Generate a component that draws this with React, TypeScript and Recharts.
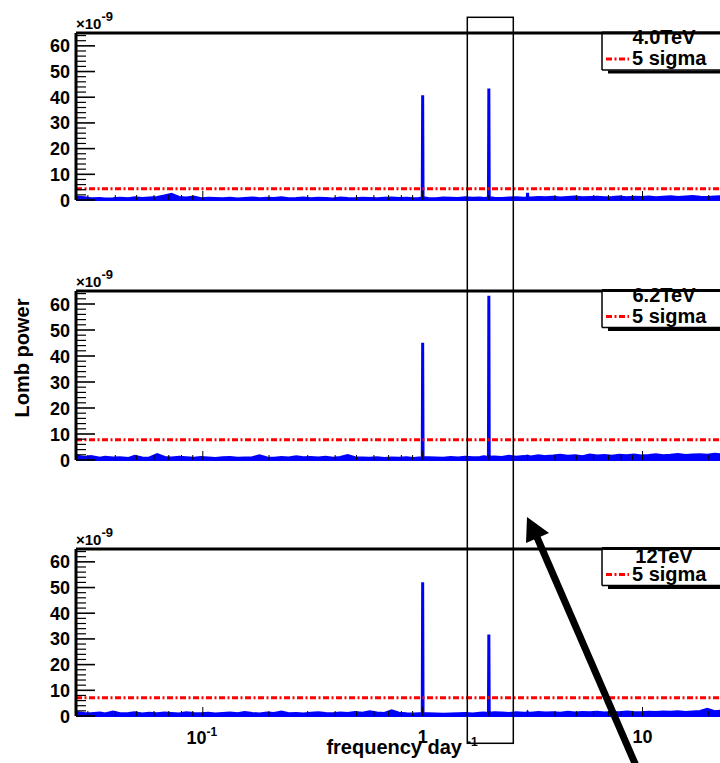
import React from "react";
import { ComposedChart, Area, XAxis, YAxis, ReferenceLine } from "recharts";

const FONT = '"Liberation Sans", Arial, Helvetica, sans-serif';

// frequency grid (day^-1), log spaced by hand
const FREQ = [
  0.0265, 0.029, 0.031, 0.034, 0.036, 0.039, 0.042, 0.046, 0.049, 0.053,
  0.057, 0.062, 0.067, 0.072, 0.078, 0.084, 0.091, 0.098, 0.106, 0.114,
  0.123, 0.133, 0.144, 0.155, 0.168, 0.181, 0.196, 0.211, 0.228, 0.246,
  0.266, 0.287, 0.31, 0.335, 0.362, 0.391, 0.422, 0.456, 0.492, 0.532,
  0.574, 0.62, 0.67, 0.723, 0.781, 0.844, 0.911, 0.96, 0.996, 1.0,
  1.004, 1.06, 1.15, 1.24, 1.34, 1.45, 1.56, 1.69, 1.82, 1.9,
  1.992, 2.0, 2.008, 2.12, 2.29, 2.47, 2.67, 2.88, 2.99, 3.0,
  3.01, 3.11, 3.36, 3.63, 3.92, 4.23, 4.57, 4.94, 5.33, 5.76,
  6.22, 6.72, 7.26, 7.84, 8.46, 9.14, 9.87, 10.7, 11.5, 12.4,
  13.4, 14.5, 15.7, 16.9, 18.3, 19.7, 21.3, 23.0, 25.0,
];

// Lomb power, units of 1e-9
const POWER_4TEV = [
  1.2, 0.9, 0.5, 0.6, 0.4, 0.5, 0.7, 0.5, 0.9, 0.6,
  0.8, 1.0, 1.6, 2.2, 1.0, 0.8, 1.2, 0.5, 0.7, 0.6,
  0.5, 0.7, 0.4, 0.6, 0.8, 0.5, 0.7, 0.6, 0.9, 0.5,
  0.6, 0.8, 0.5, 0.7, 0.6, 0.4, 0.8, 0.6, 0.5, 0.7,
  0.6, 0.5, 0.7, 0.8, 0.6, 0.7, 0.5, 0.6, 0.8, 40.8,
  0.9, 0.6, 0.5, 0.8, 0.7, 0.6, 0.9, 0.7, 0.8, 0.6,
  0.8, 43.4, 0.9, 0.7, 0.6, 0.8, 0.9, 0.7, 0.8, 2.8,
  0.9, 0.8, 1.0, 0.9, 1.1, 0.8, 1.0, 1.2, 0.9, 1.0,
  1.1, 0.9, 1.0, 1.2, 0.9, 1.1, 1.0, 1.2, 0.9, 1.1,
  1.3, 1.0, 1.2, 1.4, 1.1, 1.0, 1.2, 1.3, 1.1,
];

const POWER_6TEV = [
  1.5, 1.0, 1.3, 0.7, 1.1, 0.8, 0.9, 0.6, 1.4, 0.8,
  0.7, 2.1, 1.0, 0.8, 1.1, 0.9, 0.7, 1.0, 0.8, 0.6,
  0.9, 1.0, 0.7, 0.8, 0.9, 1.6, 0.8, 0.7, 1.0, 0.8,
  1.2, 0.9, 1.0, 0.8, 1.1, 0.7, 1.0, 1.7, 0.9, 0.8,
  0.7, 0.9, 0.6, 0.8, 0.7, 0.9, 0.6, 0.8, 0.9, 45.1,
  1.0, 0.9, 0.8, 0.7, 1.0, 0.8, 1.1, 0.9, 1.0, 1.2,
  1.0, 63.2, 1.1, 1.2, 1.0, 1.4, 1.1, 1.3, 1.5, 1.2,
  1.4, 1.2, 1.6, 1.3, 1.5, 1.8, 1.4, 1.6, 1.3, 1.9,
  1.5, 1.7, 1.4, 1.8, 1.6, 1.9, 1.5, 1.7, 2.0, 1.6,
  1.8, 2.1, 1.7, 1.9, 2.0, 1.8, 2.2, 1.9, 2.0,
];

const POWER_12TEV = [
  1.4, 1.0, 0.9, 1.2, 0.8, 1.5, 0.9, 1.0, 1.3, 0.8,
  1.1, 0.9, 1.2, 1.0, 0.8, 1.3, 1.0, 0.9, 1.1, 0.8,
  1.0, 1.2, 0.9, 1.4, 1.0, 0.8, 1.2, 1.0, 1.5, 0.9,
  1.0, 0.8, 1.1, 1.3, 1.0, 0.9, 1.2, 1.0, 1.4, 1.1,
  1.6, 1.2, 1.0, 2.0, 1.1, 0.9, 0.8, 0.9, 1.0, 52.1,
  1.0, 0.9, 0.8, 0.7, 0.8, 0.9, 1.0, 0.8, 1.1, 1.2,
  1.0, 31.7, 1.1, 1.3, 1.2, 1.0, 1.3, 1.1, 1.2, 1.4,
  1.2, 1.1, 1.4, 1.2, 1.3, 1.1, 1.5, 1.2, 1.4, 1.3,
  1.5, 1.2, 1.4, 1.3, 1.6, 1.4, 1.3, 1.5, 1.4, 1.6,
  1.5, 1.7, 1.4, 1.6, 1.8, 2.6, 1.7, 1.9, 1.8,
];

const SIGMA5 = [4.4, 7.8, 7.1];
const ENERGY_LABELS = ["4.0TeV", "6.2TeV", "12TeV"];

const Y_TICKS = [
  0, 2, 4, 6, 8, 10, 12, 14, 16, 18, 20, 22, 24, 26, 28, 30, 32,
  34, 36, 38, 40, 42, 44, 46, 48, 50, 52, 54, 56, 58, 60, 62, 64,
];
const X_TICKS = [
  0.03, 0.04, 0.05, 0.06, 0.07, 0.08, 0.09, 0.1, 0.2, 0.3, 0.4, 0.5,
  0.6, 0.7, 0.8, 0.9, 1, 2, 3, 4, 5, 6, 7, 8, 9, 10, 20,
];

const isDecade = (v: number) => {
  const l = Math.log10(v);
  return Math.abs(l - Math.round(l)) < 1e-6;
};

function YTick(props: any) {
  const { x, y, payload } = props;
  const v = payload.value;
  const major = v % 10 === 0;
  return (
    <g>
      <line x1={x} x2={x + (major ? 19 : 10)} y1={y} y2={y} stroke="#000" strokeWidth={major ? 1.6 : 1.2} />
      {major && (
        <text x={x - 6} y={y + 6.5} textAnchor="end" fontFamily={FONT} fontWeight="bold" fontSize={18} fill="#000">
          {v}
        </text>
      )}
    </g>
  );
}

function makeXTick(showLabels: boolean) {
  return (props: any) => {
    const { x, y, payload } = props;
    const v = payload.value;
    const major = isDecade(v);
    let label: React.ReactNode = null;
    if (showLabels && major) {
      if (v < 0.5) {
        label = (
          <text x={x - 1} y={y + 28} textAnchor="middle" fontFamily={FONT} fontWeight="bold" fontSize={18} fill="#000">
            10<tspan dy={-8} fontSize={12}>-1</tspan>
          </text>
        );
      } else {
        label = (
          <text x={x} y={y + 27} textAnchor="middle" fontFamily={FONT} fontWeight="bold" fontSize={18} fill="#000">
            {v}
          </text>
        );
      }
    }
    return (
      <g>
        <line x1={x} x2={x} y1={y} y2={y - (major ? 9 : 5)} stroke="#000" strokeWidth={1} />
        {label}
      </g>
    );
  };
}

interface PanelProps {
  values: number[];
  sigma: number;
  top: number;
  plotHeight: number;
  showXLabels: boolean;
}

function Panel({ values, sigma, top, plotHeight, showXLabels }: PanelProps) {
  const data = FREQ.map((f, i) => ({ f, p: values[i] }));
  const xAxisH = showXLabels ? 45 : 14;
  const mTop = 4;
  return (
    <div style={{ position: "absolute", left: 0, top: top - mTop }}>
      <ComposedChart
        width={740}
        height={mTop + plotHeight + xAxisH}
        data={data}
        margin={{ top: mTop, right: 10, bottom: 0, left: 0 }}
      >
        <XAxis
          dataKey="f"
          type="number"
          scale="log"
          domain={[0.0265, 25]}
          allowDataOverflow
          ticks={X_TICKS}
          interval={0}
          tickSize={0}
          tickMargin={0}
          tickLine={false}
          tick={makeXTick(showXLabels)}
          axisLine={{ stroke: "#0000ff", strokeWidth: 2 }}
          height={xAxisH}
        />
        <YAxis
          type="number"
          domain={[0, 65]}
          ticks={Y_TICKS}
          interval={0}
          width={76}
          tickSize={0}
          tickMargin={0}
          tickLine={false}
          tick={<YTick />}
          axisLine={{ stroke: "#000", strokeWidth: 3 }}
        />
        <Area
          type="linear"
          dataKey="p"
          stroke="#0000ff"
          strokeWidth={3}
          fill="#0000ff"
          fillOpacity={1}
          baseValue={0}
          dot={false}
          activeDot={false}
          isAnimationActive={false}
        />
        <ReferenceLine y={sigma} stroke="#ff0000" strokeWidth={3} strokeDasharray="6 2.5 2 2.5" />
        <ReferenceLine y={65} stroke="#000" strokeWidth={3} />
      </ComposedChart>
    </div>
  );
}

function LegendBox({ top, label, titleDy }: { top: number; label: string; titleDy: number }) {
  const bottom = top + 37;
  return (
    <g>
      <rect x={602} y={top} width={140} height={bottom - top} fill="#fff" />
      <line x1={602} x2={602} y1={top} y2={bottom} stroke="#000" strokeWidth={1.5} />
      <line x1={602} x2={742} y1={bottom} y2={bottom} stroke="#000" strokeWidth={1.5} />
      <line x1={608} x2={742} y1={bottom + 2} y2={bottom + 2} stroke="#000" strokeWidth={3} />
      <text x={664} y={top + titleDy} textAnchor="middle" fontFamily={FONT} fontWeight="bold" fontSize={20} fill="#000">
        {label}
      </text>
      <line x1={606} x2={629} y1={top + 26} y2={top + 26} stroke="#ff0000" strokeWidth={3} strokeDasharray="6 2.5 2 2.5" />
      <text x={632} y={top + 32} fontFamily={FONT} fontWeight="bold" fontSize={20} fill="#000">
        5 sigma
      </text>
      <line x1={602} x2={742} y1={top} y2={top} stroke="#000" strokeWidth={3} />
    </g>
  );
}

export default function App() {
  const tops = [33, 290.5, 548.5];
  const heights = [167, 169, 167];
  const series = [POWER_4TEV, POWER_6TEV, POWER_12TEV];
  const titleDy = [11, 11, 14];
  return (
    <div style={{ position: "absolute", left: 0, top: 0, width: 720, height: 763, overflow: "hidden", background: "#fff" }}>
      {series.map((vals, i) => (
        <Panel
          key={i}
          values={vals}
          sigma={SIGMA5[i]}
          top={tops[i]}
          plotHeight={heights[i]}
          showXLabels={i === 2}
        />
      ))}
      <svg width={720} height={763} style={{ position: "absolute", left: 0, top: 0, pointerEvents: "none" }}>
        {tops.map((t, i) => (
          <g key={i}>
            <text x={76} y={t - 4} fontFamily={FONT} fontWeight="bold" fontSize={15} fill="#000">
              ×10<tspan dy={-8} fontSize={13}>-9</tspan>
            </text>
            <LegendBox top={t} label={ENERGY_LABELS[i]} titleDy={titleDy[i]} />
          </g>
        ))}
        <text
          transform="translate(29,358) rotate(-90)"
          textAnchor="middle"
          fontFamily={FONT}
          fontWeight="bold"
          fontSize={20}
          fill="#000"
        >
          Lomb power
        </text>
        <text x={462} y={754} textAnchor="end" fontFamily={FONT} fontWeight="bold" fontSize={20} fill="#000">
          frequency day
        </text>
        <text x={467} y={746} fontFamily={FONT} fontWeight="bold" fontSize={12} fill="#000">
          -1
        </text>
        <rect x={467.3} y={17.3} width={46} height={726} fill="none" stroke="#000" strokeWidth={1.5} />
        <line x1={640} y1={775} x2={536} y2={535} stroke="#000" strokeWidth={7} />
        <polygon points="527,517 526,543 549,533" fill="#000" />
      </svg>
    </div>
  );
}
